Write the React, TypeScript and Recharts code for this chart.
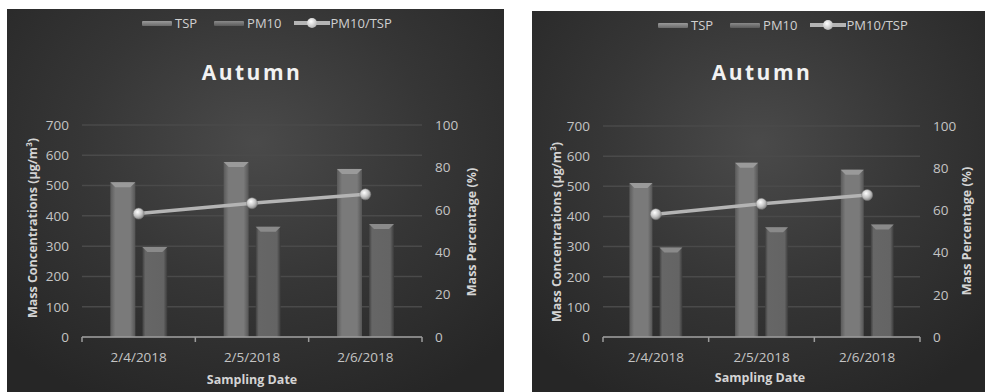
import React from 'react';
import { ComposedChart, Bar, Line, XAxis, YAxis, CartesianGrid } from 'recharts';

const dates = ['2/4/2018', '2/5/2018', '2/6/2018'];
const tsp = [511, 578, 555];
const pm10 = [297, 364, 373];
const ratio = [58.2, 63.1, 67.3];

const leftTicks = [0, 100, 200, 300, 400, 500, 600, 700];
const rightTicks = [0, 20, 40, 60, 80, 100];

const FONT = '"Open Sans", "Liberation Sans", sans-serif';
const TICK = { fill: '#c4c4c4', fontSize: 13.5, fontFamily: FONT };
const AXIS_COLOR = '#9c9c9c';

const data = dates.map((d, i) => ({ date: d, tsp: tsp[i], pm10: pm10[i], ratio: ratio[i] }));

// date label under the band centre, tick marks on the band edges (Excel style)
function CatTick(props: any) {
  const { x, y, payload, index, width, visibleTicksCount } = props;
  const n = visibleTicksCount || dates.length;
  const half = width / n / 2;
  return (
    <g>
      <line x1={x - half} y1={y} x2={x - half} y2={y + 5} stroke={AXIS_COLOR} strokeWidth={1.5} />
      {index === n - 1 && (
        <line x1={x + half} y1={y} x2={x + half} y2={y + 5} stroke={AXIS_COLOR} strokeWidth={1.5} />
      )}
      <text x={x} y={y + 25} textAnchor="middle" {...TICK}>
        {payload.value}
      </text>
    </g>
  );
}

function makeBarShape(grad: string, top: string) {
  return (props: any) => {
    const { x, y, width, height } = props;
    if (!height || height <= 0) return null;
    const b = Math.min(5, width / 4);
    return (
      <g>
        <rect x={x} y={y} width={width} height={height} fill={`url(#${grad})`} />
        <polygon
          points={`${x},${y} ${x + width},${y} ${x + width - b},${y + b} ${x + b},${y + b}`}
          fill={top}
        />
      </g>
    );
  };
}

type PanelProps = {
  id: string;
  left: number;
  top: number;
  width: number;
  height: number;
  plotTop: number;
  yLeftW: number;
  yRightW: number;
  legendX: number;
  titleX: number;
  titleY: number;
  yLabelX: number;
  yLabelY: number;
  rLabelX: number;
  rLabelY: number;
  xLabelX: number;
  xLabelY: number;
};

function Swatch({ grad }: { grad: string }) {
  return <div style={{ width: 30, height: 5, background: grad, borderRadius: 1 }} />;
}

function Panel(p: PanelProps) {
  const g1 = `${p.id}-tsp`;
  const g2 = `${p.id}-pm`;
  const gd = `${p.id}-dot`;
  const center = (x: number, y: number, extra: React.CSSProperties = {}, rot = 0): React.CSSProperties => ({
    position: 'absolute',
    left: x,
    top: y,
    transform: `translate(-50%, -50%) rotate(${rot}deg)`,
    whiteSpace: 'nowrap',
    fontFamily: FONT,
    lineHeight: 1,
    ...extra,
  });
  return (
    <div
      style={{
        position: 'absolute',
        left: p.left,
        top: p.top,
        width: p.width,
        height: p.height,
        background: 'radial-gradient(ellipse 70% 75% at 50% 35%, #4a4a4a 0%, #363636 50%, #262626 100%)',
        overflow: 'hidden',
      }}
    >
      <ComposedChart
        width={p.width}
        height={p.height}
        data={data}
        margin={{ top: p.plotTop, right: 0, bottom: 0, left: 0 }}
        barCategoryGap="25%"
        barGap={7}
        style={{ fontFamily: FONT }}
      >
        <defs>
          <linearGradient id={g1} x1="0" y1="0" x2="1" y2="0">
            <stop offset="0%" stopColor="#5a5a5a" />
            <stop offset="20%" stopColor="#7a7a7a" />
            <stop offset="80%" stopColor="#7a7a7a" />
            <stop offset="100%" stopColor="#555555" />
          </linearGradient>
          <linearGradient id={g2} x1="0" y1="0" x2="1" y2="0">
            <stop offset="0%" stopColor="#3e3e3e" />
            <stop offset="12%" stopColor="#666666" />
            <stop offset="85%" stopColor="#646464" />
            <stop offset="100%" stopColor="#3a3a3a" />
          </linearGradient>
          <radialGradient id={gd} cx="40%" cy="35%" r="65%">
            <stop offset="0%" stopColor="#ffffff" />
            <stop offset="60%" stopColor="#c4c4c4" />
            <stop offset="100%" stopColor="#8a8a8a" />
          </radialGradient>
        </defs>
        <CartesianGrid yAxisId="left" vertical={false} stroke="#4a4a4a" strokeWidth={1.5} />
        <XAxis
          dataKey="date"
          height={55}
          interval={0}
          tickSize={0}
          tickMargin={0}
          tickLine={false}
          tick={<CatTick />}
          axisLine={{ stroke: AXIS_COLOR, strokeWidth: 1.5 }}
        />
        <YAxis
          yAxisId="left"
          orientation="left"
          width={p.yLeftW}
          domain={[0, 700]}
          ticks={leftTicks}
          axisLine={false}
          tickLine={false}
          tickSize={0}
          tickMargin={13}
          tick={TICK}
        />
        <YAxis
          yAxisId="right"
          orientation="right"
          width={p.yRightW}
          domain={[0, 100]}
          ticks={rightTicks}
          axisLine={false}
          tickLine={false}
          tickSize={0}
          tickMargin={13}
          tick={TICK}
        />
        <Bar
          yAxisId="left"
          dataKey="tsp"
          name="TSP"
          shape={makeBarShape(g1, '#9a9a9a')}
          isAnimationActive={false}
        />
        <Bar
          yAxisId="left"
          dataKey="pm10"
          name="PM10"
          shape={makeBarShape(g2, '#8a8a8a')}
          isAnimationActive={false}
        />
        <Line
          yAxisId="right"
          dataKey="ratio"
          name="PM10/TSP"
          stroke="#b4b4b4"
          strokeWidth={3.5}
          dot={{ r: 5.5, fill: `url(#${gd})`, stroke: '#7a7a7a', strokeWidth: 0.5 }}
          isAnimationActive={false}
        />
      </ComposedChart>

      <div
        style={{
          position: 'absolute',
          left: p.legendX,
          top: 14,
          transform: 'translateY(-50%)',
          display: 'flex',
          alignItems: 'center',
          fontFamily: FONT,
          fontSize: 13,
          color: '#d0d0d0',
        }}
      >
        <Swatch grad="linear-gradient(#9a9a9a, #6a6a6a)" />
        <span style={{ marginLeft: 3, marginRight: 17 }}>TSP</span>
        <Swatch grad="linear-gradient(#8a8a8a, #5a5a5a)" />
        <span style={{ marginLeft: 3, marginRight: 12 }}>PM10</span>
        <div style={{ position: 'relative', width: 36, height: 12 }}>
          <div style={{ position: 'absolute', left: 0, right: 0, top: 4, height: 4, background: '#b4b4b4' }} />
          <div
            style={{
              position: 'absolute',
              left: 13,
              top: 1,
              width: 10,
              height: 10,
              borderRadius: '50%',
              background: 'radial-gradient(circle at 40% 35%, #ffffff, #c4c4c4 60%, #8a8a8a)',
            }}
          />
        </div>
        <span style={{ marginLeft: 1 }}>PM10/TSP</span>
      </div>

      <div style={center(p.titleX, p.titleY, { fontSize: 21, fontWeight: 700, letterSpacing: 2.5, color: '#f2f2f2' })}>
        Autumn
      </div>
      <div style={center(p.yLabelX, p.yLabelY, { fontSize: 12.5, fontWeight: 700, color: '#d4d4d4' }, -90)}>
        Mass Concentrations (μg/m³)
      </div>
      <div style={center(p.rLabelX, p.rLabelY, { fontSize: 12.5, fontWeight: 700, color: '#d4d4d4' }, -90)}>
        Mass Percentage (%)
      </div>
      <div style={center(p.xLabelX, p.xLabelY, { fontSize: 12.5, fontWeight: 700, color: '#d4d4d4' })}>
        Sampling Date
      </div>
    </div>
  );
}

export default function App() {
  return (
    <div style={{ position: 'relative', width: 985, height: 392, background: '#ffffff', overflow: 'hidden' }}>
      <style>{'html, body { margin: 0; padding: 0; overflow: hidden; }'}</style>
      <Panel
        id="a"
        left={7}
        top={9}
        width={497}
        height={383}
        plotTop={116}
        yLeftW={75}
        yRightW={82}
        legendX={135}
        titleX={245}
        titleY={63}
        yLabelX={26}
        yLabelY={219}
        rLabelX={465}
        rLabelY={223}
        xLabelX={245}
        xLabelY={371}
      />
      <Panel
        id="b"
        left={532}
        top={11}
        width={453}
        height={381}
        plotTop={115}
        yLeftW={71}
        yRightW={65}
        legendX={126}
        titleX={230}
        titleY={61}
        yLabelX={25}
        yLabelY={221}
        rLabelX={435}
        rLabelY={220}
        xLabelX={228}
        xLabelY={367}
      />
    </div>
  );
}
